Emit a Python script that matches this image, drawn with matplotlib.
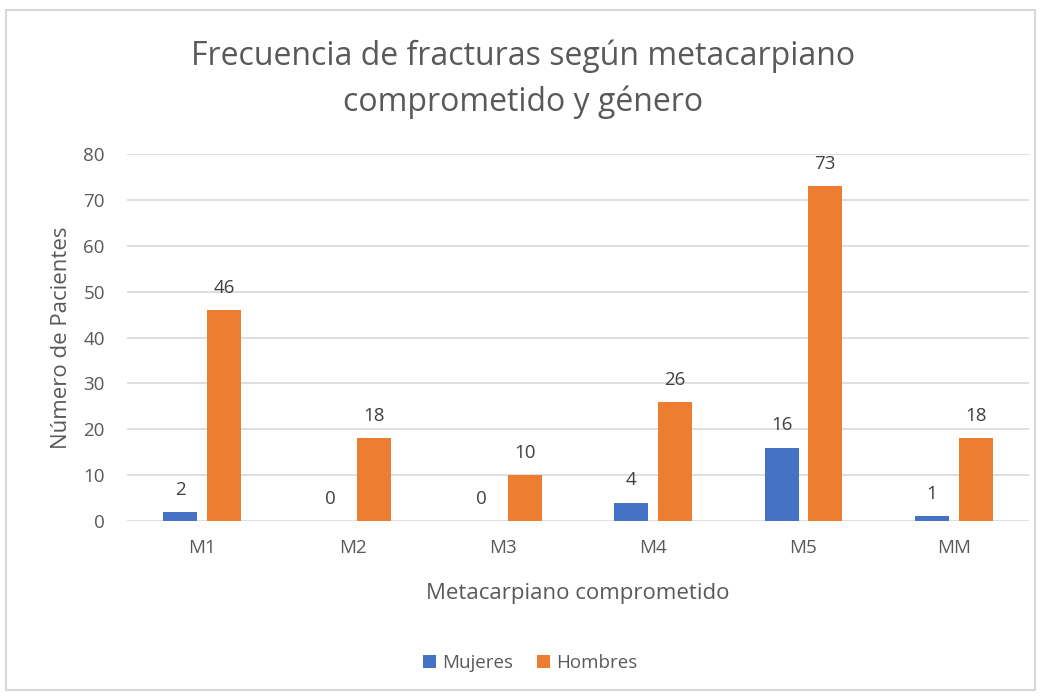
import matplotlib
matplotlib.use("Agg")
import matplotlib.pyplot as plt
from matplotlib.patches import Rectangle
import numpy as np

categories = ["M1", "M2", "M3", "M4", "M5", "MM"]
mujeres = [2, 0, 0, 4, 16, 1]
hombres = [46, 18, 10, 26, 73, 18]
yticks = [0, 10, 20, 30, 40, 50, 60, 70, 80]

plt.rcParams['font.family'] = ['Open Sans', 'DejaVu Sans']
text_color = '#595959'

fig = plt.figure(figsize=(10.46, 6.96), dpi=100)
fig.patches.append(Rectangle((6/1046, 1 - 690/696), 1029/1046, 680/696,
                             transform=fig.transFigure, fill=False,
                             edgecolor='#d9d9d9', linewidth=1.5))

ax = fig.add_axes([127/1046, 1 - 521/696, 902/1046, (521 - 154)/696])
x = np.arange(len(categories))
w = 0.225
off = 0.145
b1 = ax.bar(x - off, mujeres, w, color='#4472c4', label='Mujeres')
b2 = ax.bar(x + off, hombres, w, color='#ed7d31', label='Hombres')

for bars in (b1, b2):
    for r in bars:
        ax.annotate(f"{int(r.get_height())}", (r.get_x() + r.get_width() / 2, r.get_height()),
                    xytext=(0, 9.5), textcoords='offset points', ha='center', va='bottom',
                    fontsize=13.5, color='#404040')

ax.set_xlim(-0.5, len(categories) - 0.5)
ax.set_ylim(0, 80)
ax.set_yticks(yticks)
ax.set_xticks(x)
ax.set_xticklabels(categories)
ax.tick_params(axis='both', length=0, labelsize=13.5, labelcolor=text_color)
ax.tick_params(axis='x', pad=13)
ax.tick_params(axis='y', pad=16)
ax.grid(axis='y', color='#d9d9d9', linewidth=1.2)
ax.set_axisbelow(True)
for s in ax.spines.values():
    s.set_visible(False)

ax.set_xlabel('Metacarpiano comprometido', fontsize=16, color=text_color, labelpad=19)
ax.set_ylabel('Número de Pacientes', fontsize=16, color=text_color, labelpad=8)

fig.text(0.5, 1 - 79/696, 'Frecuencia de fracturas según metacarpiano\ncomprometido y género',
         ha='center', va='center', fontsize=23, color=text_color, linespacing=1.5)

leg = fig.legend(handles=[b1, b2], loc='center', bbox_to_anchor=(530/1046, 1 - 663/696),
                 ncol=2, frameon=False, fontsize=13.5, handlelength=0.7, handleheight=0.7,
                 handletextpad=0.3, columnspacing=1.3)
for t in leg.get_texts():
    t.set_color(text_color)

fig.savefig('out.png', dpi=100)
